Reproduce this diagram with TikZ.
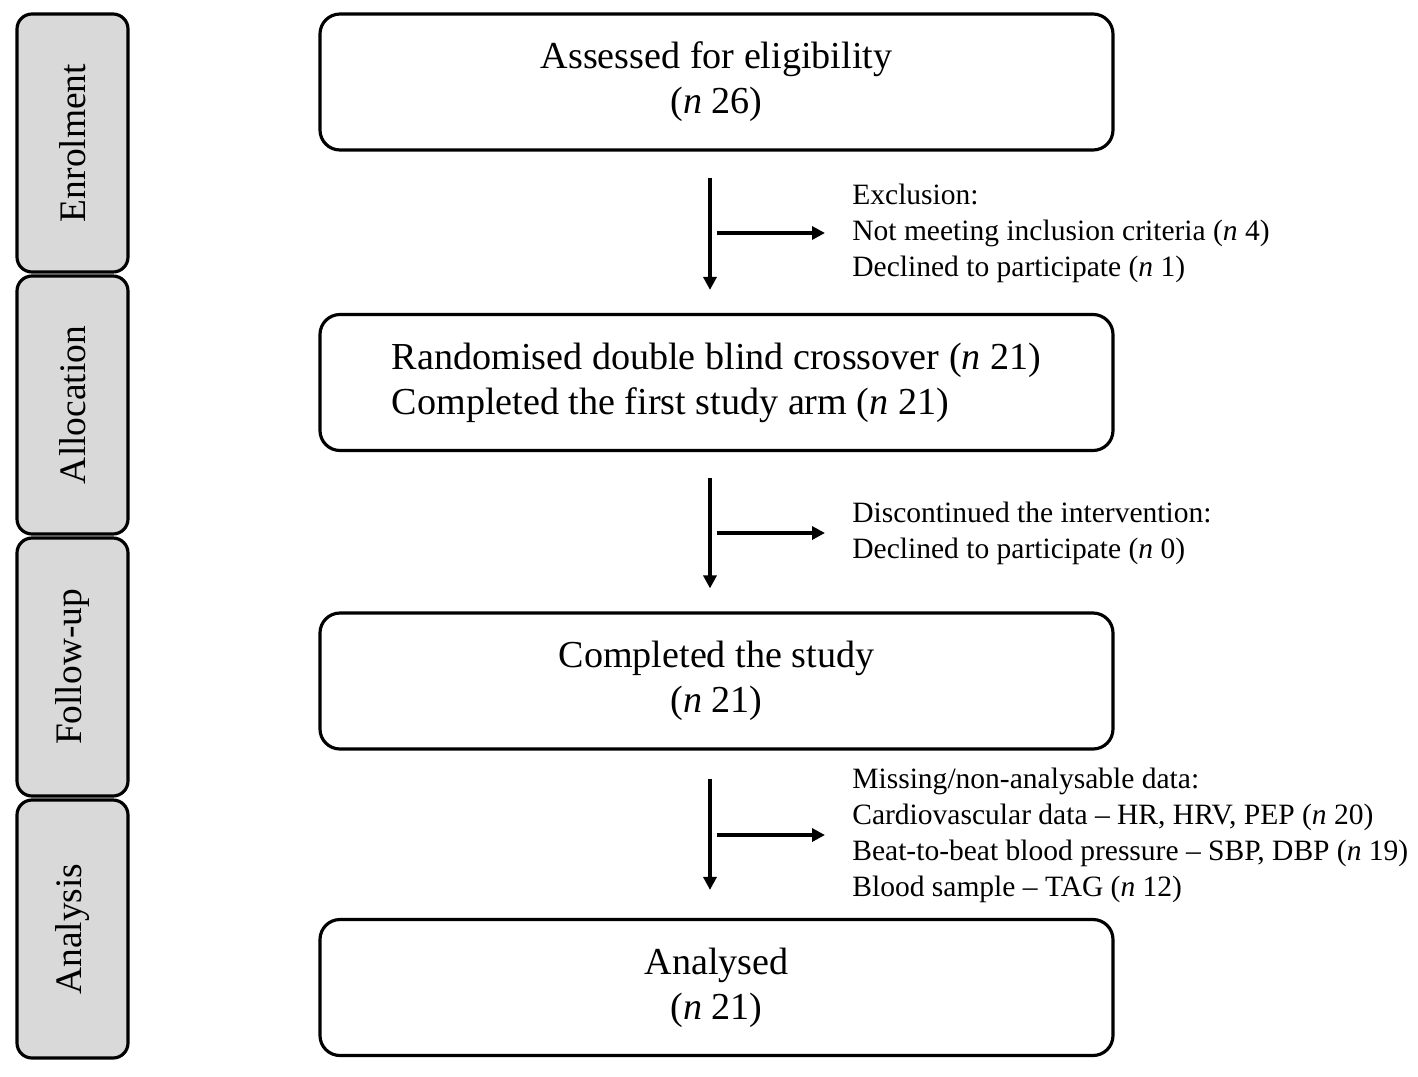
\documentclass[tikz,border=0pt]{standalone}
\usepackage{fontspec}
\setmainfont{Liberation Serif}
\usetikzlibrary{arrows.meta}
\definecolor{sidegray}{RGB}{217,217,217}

\begin{document}
\begin{tikzpicture}[
    mainbox/.style={draw,line width=1.8pt,rounded corners=0.4cm,minimum width=15.86cm,minimum height=2.72cm,align=center,font=\fontsize{21.7}{25.6}\selectfont,execute at begin node={\rule{0pt}{0.68cm}}},
    sidebox/.style={draw,line width=1.8pt,fill=sidegray,rounded corners=0.3cm,rotate=90,minimum width=5.16cm,minimum height=2.22cm,font=\fontsize{21.3}{25}\selectfont},
    note/.style={anchor=west,align=left,inner sep=0pt,font=\fontsize{16.8}{20.5}\selectfont},
    flow/.style={line width=2pt,-{Triangle[length=0.26cm,width=0.26cm]}}]
    \useasboundingbox (0,0) rectangle (28.36,-21.52);
    % stage labels on the left
    \foreach \lab [count=\i] in {Enrolment,Allocation,Follow-up,Analysis}
    \node[sidebox] (side\i) at (1.45,{-2.86-5.24*(\i-1)}) {\lab};
    % main boxes
    \node[mainbox] (assess) at (14.33,-1.64) {Assessed for eligibility\\(\textit{n} 26)};
    \node[mainbox,align=left] (random) at (14.33,-7.65) {Randomised double blind crossover (\textit{n} 21)\\Completed the first study arm (\textit{n} 21)};
    \node[mainbox] (complete) at (14.33,-13.62) {Completed the study\\(\textit{n} 21)};
    \node[mainbox] (analysed) at (14.33,-19.75) {Analysed\\(\textit{n} 21)};
    % side notes
    \node[note] (excl) at (17.04,-4.66) {Exclusion:\\Not meeting inclusion criteria (\textit{n} 4)\\Declined to participate (\textit{n} 1)};
    \node[note] (discont) at (17.04,-10.66) {Discontinued the intervention:\\Declined to participate (\textit{n} 0)};
    \node[note] (missing) at (17.04,-16.70) {Missing/non-analysable data:\\Cardiovascular data -- HR, HRV, PEP (\textit{n} 20)\\Beat-to-beat blood pressure -- SBP, DBP (\textit{n} 19)\\Blood sample -- TAG (\textit{n} 12)};
    % arrows
    \draw[flow] ([xshift=-0.13cm,yshift=-0.52cm]assess.south) -- ([xshift=-0.13cm,yshift=0.46cm]random.north);
    \draw[flow] ([xshift=-0.13cm,yshift=-0.52cm]random.south) -- ([xshift=-0.13cm,yshift=0.46cm]complete.north);
    \draw[flow] ([xshift=-0.13cm,yshift=-0.56cm]complete.south) -- ([xshift=-0.13cm,yshift=0.56cm]analysed.north);
    \draw[flow] (excl.west -| assess.south) -- ([xshift=-0.54cm]excl.west);
    \draw[flow] (discont.west -| random.south) -- ([xshift=-0.54cm]discont.west);
    \draw[flow] (missing.west -| complete.south) -- ([xshift=-0.54cm]missing.west);
\end{tikzpicture}
\end{document}
